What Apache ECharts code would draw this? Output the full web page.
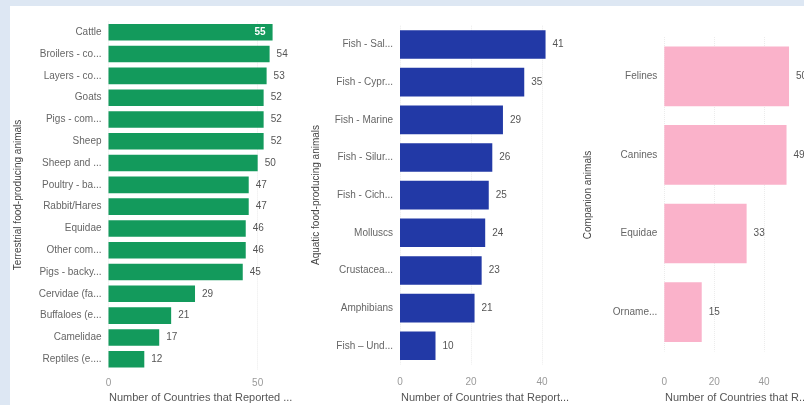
<!DOCTYPE html>
<html>
<head>
<meta charset="utf-8">
<script src="https://cdn.jsdelivr.net/npm/echarts@6/dist/echarts.min.js"></script>
<style>
html,body{margin:0;padding:0;background:#dde7f3;width:804px;height:405px;overflow:hidden;}
#bg{position:absolute;left:10px;top:6px;right:0;bottom:0;background:#ffffff;}
#chart{position:absolute;left:0;top:0;width:804px;height:405px;}
</style>
</head>
<body>
<div id="bg"></div>
<div id="chart"></div>
<script>
// ---- data ----
const terrCats = ["Cattle","Broilers - co...","Layers - co...","Goats","Pigs - com...","Sheep","Sheep and ...","Poultry - ba...","Rabbit/Hares","Equidae","Other com...","Pigs - backy...","Cervidae (fa...","Buffaloes (e...","Camelidae","Reptiles (e...."];
const terrVals = [55,54,53,52,52,52,50,47,47,46,46,45,29,21,17,12];
const terrTicks = [0,50];

const aquaCats = ["Fish - Sal...","Fish - Cypr...","Fish - Marine","Fish - Silur...","Fish - Cich...","Molluscs","Crustacea...","Amphibians","Fish \u2013 Und..."];
const aquaVals = [41,35,29,26,25,24,23,21,10];
const aquaTicks = [0,20,40];

const compCats = ["Felines","Canines","Equidae","Orname..."];
const compVals = [50,49,33,15];
const compTicks = [0,20,40];

const yTitles = ["Terrestrial food-producing animals","Aquatic food-producing animals","Companion animals"];
const xTitles = ["Number of Countries that Reported ...","Number of Countries that Report...","Number of Countries that R..."];

// ---- layout / style ----
const FONT = "Liberation Sans, Arial, sans-serif";
const panels = [
  {cats: terrCats, vals: terrVals, ticks: terrTicks, color: "#139a5c", left: 108.5, width: 179, max: 60, top: 21.4, height: 348.7, margin: 8, insideFirst: true, titleX: 18, axisTitleX: 109},
  {cats: aquaCats, vals: aquaVals, ticks: aquaTicks, color: "#2239a6", left: 400, width: 159.75, max: 45, top: 25.7, height: 338.9, margin: 13, insideFirst: false, titleX: 316, axisTitleX: 401},
  {cats: compCats, vals: compVals, ticks: compTicks, color: "#fab2ca", left: 664.3, width: 140, max: 56, top: 37, height: 314.4, margin: 26, insideFirst: false, titleX: 588, axisTitleX: 665}
];

const grid = [], xAxis = [], yAxis = [], series = [], graphic = [];
panels.forEach((p, i) => {
  grid.push({left: p.left, top: p.top, width: p.width, height: p.height, containLabel: false});
  xAxis.push({
    type: "value", gridIndex: i, min: 0, max: p.max,
    axisLine: {show: false}, axisTick: {show: false}, splitLine: {show: false},
    axisLabel: {
      margin: p.margin, color: "#9a9a9a", fontSize: 10, fontFamily: FONT,
      customValues: p.ticks
    }
  });
  yAxis.push({
    type: "category", gridIndex: i, data: p.cats, inverse: true,
    axisLine: {show: false}, axisTick: {show: false},
    axisLabel: {margin: 7, color: "#666", fontSize: 10, fontFamily: FONT}
  });
  const data = p.vals.map((v, k) => {
    if (p.insideFirst && k === 0) {
      return {value: v, label: {position: "insideRight", distance: 7, color: "#ffffff", fontWeight: "bold"}};
    }
    return v;
  });
  series.push({
    type: "bar", xAxisIndex: i, yAxisIndex: i, data: data,
    barCategoryGap: "24%", z: 3,
    itemStyle: {color: p.color},
    label: {show: true, position: "right", distance: 7, color: "#555", fontSize: 10, fontFamily: FONT},
    markLine: {
      silent: true, symbol: "none", animation: false, z: 1,
      label: {show: false},
      lineStyle: {color: "#ececec", type: "dotted", width: 1},
      data: p.ticks.map(t => ({xAxis: t}))
    },
    animation: false
  });
  graphic.push({
    type: "text", rotation: Math.PI / 2, x: p.titleX, y: 195,
    style: {text: yTitles[i], fill: "#444", font: "10px " + FONT, textAlign: "center", textVerticalAlign: "middle"}
  });
  graphic.push({
    type: "text", x: p.axisTitleX, y: 398,
    style: {text: xTitles[i], fill: "#555", font: "11px " + FONT, textAlign: "left", textVerticalAlign: "middle"}
  });
});

const chart = echarts.init(document.getElementById("chart"), null, {renderer: "canvas"});
chart.setOption({
  backgroundColor: "transparent",
  animation: false,
  grid: grid, xAxis: xAxis, yAxis: yAxis, series: series, graphic: graphic
});
</script>
</body>
</html>
